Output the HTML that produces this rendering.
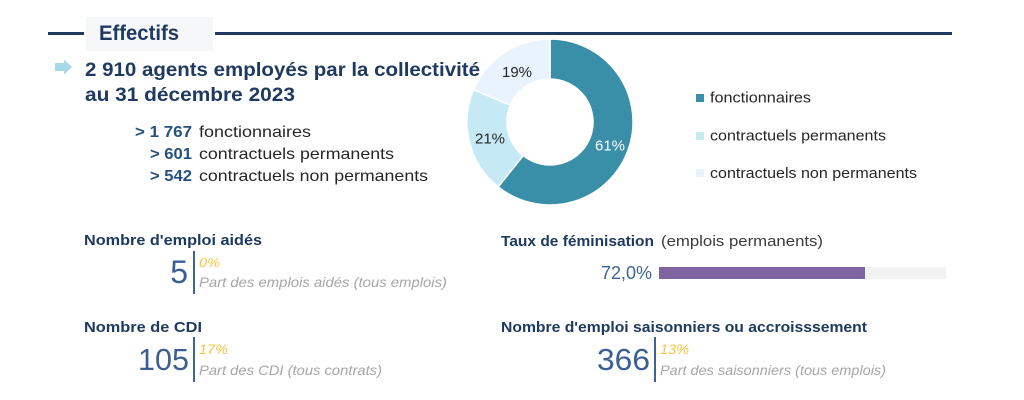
<!DOCTYPE html>
<html><head><meta charset="utf-8"><style>
html,body{margin:0;padding:0;background:#fff;}
svg{display:block;}
text{font-family:"Liberation Sans",sans-serif;}
</style></head><body>
<svg width="1024" height="400" viewBox="0 0 1024 400" xmlns="http://www.w3.org/2000/svg">
<rect width="1024" height="400" fill="#ffffff"/>
<!-- header -->
<rect x="48" y="32" width="36" height="3" fill="#1f3a60"/>
<rect x="215" y="32" width="737" height="3" fill="#1f3a60"/>
<rect x="86" y="17" width="127" height="34" fill="#f6f7f9"/>
<text x="99" y="40" font-size="21" font-weight="bold" fill="#1f3a60" textLength="80" lengthAdjust="spacingAndGlyphs">Effectifs</text>
<!-- arrow -->
<path d="M55,63 L64,63 L64,59.5 L72,67 L64,74.5 L64,71 L55,71 Z" fill="#a8d9e8"/>
<!-- title -->
<text x="85" y="76" font-size="19" font-weight="bold" fill="#1f3a60" textLength="395" lengthAdjust="spacingAndGlyphs">2 910 agents employés par la collectivité</text>
<text x="85" y="101" font-size="19" font-weight="bold" fill="#1f3a60" textLength="210" lengthAdjust="spacingAndGlyphs">au 31 décembre 2023</text>
<!-- list -->
<text x="135" y="137" font-size="15.5" font-weight="bold" fill="#24507f" textLength="57" lengthAdjust="spacingAndGlyphs">&gt; 1 767</text>
<text x="199" y="137" font-size="16" fill="#262626" textLength="112" lengthAdjust="spacingAndGlyphs">fonctionnaires</text>
<text x="150" y="159" font-size="15.5" font-weight="bold" fill="#24507f" textLength="42" lengthAdjust="spacingAndGlyphs">&gt; 601</text>
<text x="199" y="159" font-size="16" fill="#262626" textLength="195" lengthAdjust="spacingAndGlyphs">contractuels permanents</text>
<text x="150" y="181" font-size="15.5" font-weight="bold" fill="#24507f" textLength="42" lengthAdjust="spacingAndGlyphs">&gt; 542</text>
<text x="199" y="181" font-size="16" fill="#262626" textLength="229" lengthAdjust="spacingAndGlyphs">contractuels non permanents</text>
<!-- donut -->
<g stroke="#ffffff" stroke-width="1.5">
<path d="M550,39 A83,83 0 1 1 498.22,186.86 L523.17,155.60 A43,43 0 1 0 550,79 Z" fill="#3a8fa8"/>
<path d="M498.22,186.86 A83,83 0 0 1 473.57,89.63 L510.41,105.23 A43,43 0 0 0 523.17,155.60 Z" fill="#c6eaf5"/>
<path d="M473.57,89.63 A83,83 0 0 1 550,39 L550,79 A43,43 0 0 0 510.41,105.23 Z" fill="#e8f3fd"/>
</g>
<text x="517" y="77" font-size="15" fill="#262626" text-anchor="middle">19%</text>
<text x="490" y="143.5" font-size="15" fill="#262626" text-anchor="middle">21%</text>
<text x="610" y="150.5" font-size="15" fill="#ffffff" text-anchor="middle">61%</text>
<!-- legend -->
<rect x="696" y="94" width="8" height="8" fill="#3a8fa8"/>
<text x="710" y="102.5" font-size="15" fill="#262626" textLength="101" lengthAdjust="spacingAndGlyphs">fonctionnaires</text>
<rect x="696" y="132" width="8" height="8" fill="#c6eaf5"/>
<text x="710" y="140.5" font-size="15" fill="#262626" textLength="176" lengthAdjust="spacingAndGlyphs">contractuels permanents</text>
<rect x="696" y="169" width="8" height="8" fill="#e8f3fd"/>
<text x="710" y="178" font-size="15" fill="#262626" textLength="207" lengthAdjust="spacingAndGlyphs">contractuels non permanents</text>
<!-- bottom left -->
<text x="84" y="245" font-size="15" font-weight="bold" fill="#1f3a60" textLength="178" lengthAdjust="spacingAndGlyphs">Nombre d'emploi aidés</text>
<text x="188" y="283" font-size="32" fill="#3b5f94" text-anchor="end">5</text>
<rect x="193" y="251" width="2" height="43" fill="#3d6496"/>
<text x="199" y="267" font-size="13" font-style="italic" fill="#f5c440" textLength="21" lengthAdjust="spacingAndGlyphs">0%</text>
<text x="199" y="287" font-size="14" font-style="italic" fill="#a6a6a6" textLength="248" lengthAdjust="spacingAndGlyphs">Part des emplois aidés (tous emplois)</text>

<text x="84" y="332" font-size="15" font-weight="bold" fill="#1f3a60" textLength="118" lengthAdjust="spacingAndGlyphs">Nombre de CDI</text>
<text x="189" y="370" font-size="31" fill="#3b5f94" text-anchor="end" textLength="51" lengthAdjust="spacingAndGlyphs">105</text>
<rect x="193" y="337" width="2" height="45" fill="#3d6496"/>
<text x="199" y="354" font-size="14" font-style="italic" fill="#f5c440" textLength="29" lengthAdjust="spacingAndGlyphs">17%</text>
<text x="199" y="375" font-size="14" font-style="italic" fill="#a6a6a6" textLength="183" lengthAdjust="spacingAndGlyphs">Part des CDI (tous contrats)</text>

<!-- bottom right -->
<text x="501" y="246" font-size="15" font-weight="bold" fill="#1f3a60" textLength="153" lengthAdjust="spacingAndGlyphs">Taux de féminisation</text>
<text x="661" y="246" font-size="15" fill="#3a3a3a" textLength="162" lengthAdjust="spacingAndGlyphs">(emplois permanents)</text>
<text x="652" y="279" font-size="18" fill="#3d6496" text-anchor="end" textLength="51" lengthAdjust="spacingAndGlyphs">72,0%</text>
<rect x="659" y="267" width="287" height="12" fill="#f2f2f2"/>
<rect x="659" y="267" width="206" height="12" fill="#8064a2"/>

<text x="501" y="332" font-size="15" font-weight="bold" fill="#1f3a60" textLength="366" lengthAdjust="spacingAndGlyphs">Nombre d'emploi saisonniers ou accroisssement</text>
<text x="650" y="370" font-size="31" fill="#3b5f94" text-anchor="end" textLength="53" lengthAdjust="spacingAndGlyphs">366</text>
<rect x="654" y="337" width="2" height="45" fill="#3d6496"/>
<text x="660" y="354" font-size="14" font-style="italic" fill="#f5c440" textLength="29" lengthAdjust="spacingAndGlyphs">13%</text>
<text x="660" y="375" font-size="14" font-style="italic" fill="#a6a6a6" textLength="226" lengthAdjust="spacingAndGlyphs">Part des saisonniers (tous emplois)</text>
</svg>
</body></html>
